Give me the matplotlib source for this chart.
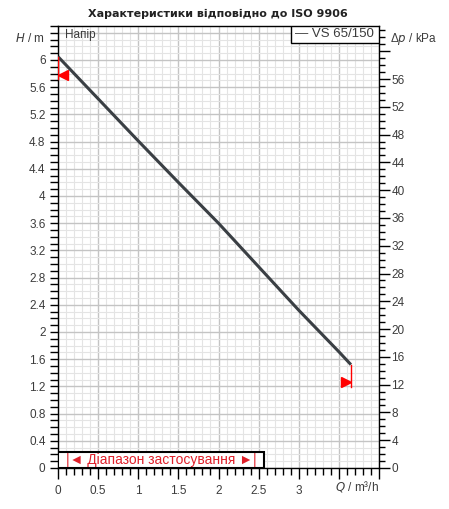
import matplotlib
matplotlib.use("Agg")
import matplotlib.pyplot as plt
import matplotlib.patches as mpatches
from matplotlib.ticker import MultipleLocator, FixedLocator

# Дані кривої
q_m3h = [0.0, 0.5, 1.0, 1.5, 2.0, 2.5, 3.0, 3.5, 3.65]
h_m = [6.05, 5.43, 4.81, 4.20, 3.60, 2.96, 2.32, 1.71, 1.52]

x_ticks = [0, 0.5, 1, 1.5, 2, 2.5, 3, 3.5, 4]
x_tick_labels = ["0", "0.5", "1", "1.5", "2", "2.5", "3", "", ""]
y_ticks = [0, 0.4, 0.8, 1.2, 1.6, 2, 2.4, 2.8, 3.2, 3.6, 4, 4.4, 4.8, 5.2, 5.6, 6, 6.4]
y_tick_labels = [f"{v:g}" for v in y_ticks[:-1]] + [""]
kpa_ticks = list(range(0, 61, 4))
kpa_tick_labels = [str(v) for v in kpa_ticks[:-1]] + [""]

q_min, q_max = 0.0, 3.65
h_min_mark, h_max_mark = 1.19, 5.72
range_start, range_end = 0.0, 2.57

KPA_PER_M = 9.79
COR_LINHA = "#3a3f44"
COR_TEXTO = "#3c3c3c"
FONTE = "Liberation Sans"

plt.rcParams["font.family"] = [FONTE, "DejaVu Sans"]

fig = plt.figure(figsize=(4.49, 5.09), dpi=100)
ax = fig.add_axes([58 / 449, 41 / 509, 321 / 449, 442 / 509])
ax.set_xlim(0, 4)
ax.set_ylim(0, 6.5)

# Сітка
ax.xaxis.set_major_locator(FixedLocator(x_ticks))
ax.xaxis.set_minor_locator(MultipleLocator(0.1))
ax.yaxis.set_major_locator(FixedLocator(y_ticks))
ax.yaxis.set_minor_locator(MultipleLocator(0.1))
ax.grid(which="major", color="#c4c4c4", linewidth=1.0)
ax.grid(which="minor", color="#e4e4e4", linewidth=0.8)
ax.set_axisbelow(True)

ax.set_xticklabels(x_tick_labels, fontsize=8.5, color=COR_TEXTO)
ax.set_yticklabels(y_tick_labels, fontsize=8.5, color=COR_TEXTO)
ax.tick_params(axis="x", which="major", direction="out", length=8, width=1, color="black", pad=4)
ax.tick_params(axis="x", which="minor", direction="out", length=5, width=1, color="black")
ax.tick_params(axis="y", which="both", direction="out", length=6, width=1, color="black", pad=3)
for s in ax.spines.values():
    s.set_color("black")
    s.set_linewidth(1)

# Права вісь: Δp / kPa
ax2 = ax.twinx()
ax2.set_ylim(0, 6.5 * KPA_PER_M)
ax2.yaxis.set_major_locator(FixedLocator(kpa_ticks))
ax2.yaxis.set_minor_locator(MultipleLocator(1))
ax2.set_yticklabels(kpa_tick_labels, fontsize=8.5, color=COR_TEXTO)
ax2.tick_params(which="major", direction="out", length=8, width=1, color="black", pad=1)
ax2.tick_params(which="minor", direction="out", length=4, width=1, color="black")
for s in ax2.spines.values():
    s.set_visible(False)

# Крива
ax.plot(q_m3h, h_m, color=COR_LINHA, linewidth=2.2, solid_capstyle="butt", zorder=5)

# Межі робочої зони (червоні маркери)
ax.plot([q_min, q_min], [h_m[0], h_max_mark], color="red", linewidth=1, zorder=6)
ax.plot([0.06], [5.78], marker="<", color="red", markersize=7, zorder=6, clip_on=False)
ax.plot([q_max, q_max], [h_m[-1], h_min_mark], color="red", linewidth=1, zorder=6)
ax.plot([q_max - 0.06], [1.27], marker=">", color="red", markersize=7, zorder=6)

# Легенда
ax.add_patch(mpatches.Rectangle((0.726, 0.9615), 0.274, 0.0385, transform=ax.transAxes,
                                facecolor="white", edgecolor="black", linewidth=1, zorder=7))
ax.text(0.985, 0.981, "— VS 65/150", transform=ax.transAxes, ha="right", va="center",
        fontsize=9.5, color=COR_TEXTO, zorder=8)

ax.text(0.022, 0.98, "Напір", transform=ax.transAxes, ha="left", va="center",
        fontsize=8.5, color=COR_TEXTO, zorder=8)

# Діапазон застосування
ax.add_patch(mpatches.Rectangle((range_start, 0), range_end - range_start, 0.24,
                                facecolor="white", edgecolor="black", linewidth=1.5, zorder=7))
ax.text((range_start + range_end) / 2, 0.12, "|◄ Діапазон застосування ►|", ha="center",
        va="center", fontsize=10, color="#e0202a", zorder=8)

# Підписи осей
fig.text(45 / 449, 1 - 39 / 509, "$H$ / m", ha="right", va="center", fontsize=8.5, color=COR_TEXTO)
fig.text(390 / 449, 1 - 39 / 509, "Δ$p$ / kPa", ha="left", va="center", fontsize=8.5, color=COR_TEXTO)
fig.text(379 / 449, 1 - 487 / 509, "$Q$ / m³/h", ha="right", va="center", fontsize=8.5, color=COR_TEXTO)

fig.text(218 / 449, 1 - 14 / 509, "Характеристики відповідно до ISO 9906", ha="center",
         va="center", fontsize=8, fontweight="bold", color="#222222", family="DejaVu Sans")

fig.savefig("out.png", dpi=100, facecolor="white")
